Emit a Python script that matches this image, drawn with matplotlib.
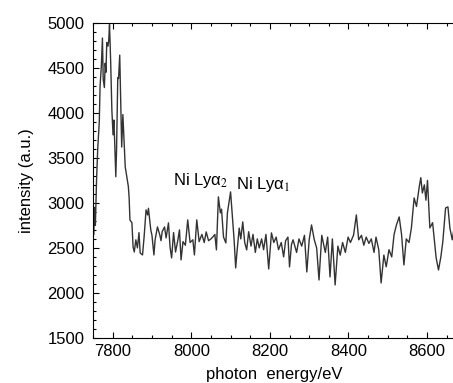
import matplotlib
matplotlib.use("Agg")
import matplotlib.pyplot as plt
from matplotlib.ticker import MultipleLocator

plt.rcParams['font.family'] = ['Liberation Sans', 'DejaVu Sans']
plt.rcParams['mathtext.fontset'] = 'stix'

# photon energy (eV) and intensity (a.u.)
energy = [7752, 7754, 7756, 7759, 7762, 7766, 7768, 7771, 7774, 7776,
          7779, 7781, 7783, 7785, 7788, 7790, 7792, 7795, 7798, 7801,
          7803, 7805, 7808, 7810, 7813, 7815, 7818, 7820, 7823, 7826,
          7828, 7832, 7836, 7840, 7842, 7844, 7849, 7852, 7855, 7859,
          7863, 7867, 7870, 7876, 7880, 7885, 7889, 7891, 7897, 7900,
          7905, 7908, 7914, 7920, 7923, 7926, 7932, 7936, 7942, 7946,
          7950, 7955, 7960, 7966, 7970, 7974, 7979, 7985, 7991, 7997,
          8004, 8008, 8014, 8020, 8027, 8033, 8038, 8044, 8050, 8055,
          8060, 8064, 8069, 8074, 8077, 8082, 8088, 8092, 8097, 8100,
          8104, 8109, 8113, 8116, 8122, 8126, 8131, 8136, 8141, 8146,
          8152, 8157, 8163, 8168, 8173, 8179, 8184, 8190, 8197, 8204,
          8210, 8216, 8222, 8229, 8235, 8240, 8246, 8250, 8255, 8259,
          8268, 8274, 8281, 8288, 8294, 8300, 8306, 8313, 8319, 8325,
          8332, 8341, 8347, 8353, 8359, 8366, 8373, 8379, 8385, 8392,
          8399, 8405, 8413, 8420, 8426, 8433, 8439, 8445, 8452, 8458,
          8465, 8470, 8477, 8483, 8490, 8496, 8503, 8510, 8516, 8522,
          8529, 8535, 8541, 8547, 8554, 8560, 8567, 8573, 8580, 8584,
          8588, 8593, 8597, 8601, 8607, 8614, 8623, 8629, 8635, 8640,
          8647, 8653, 8658, 8664, 8668, 8673]
intensity = [2650, 2950, 2750, 3250, 3600, 3900, 4300, 4500, 4830, 4370,
             4280, 4550, 4450, 4780, 4740, 4800, 4980, 4560, 4030, 3755,
             3920, 3700, 3290, 3600, 4390, 4380, 4640, 4220, 3620, 3980,
             3790, 3400, 3290, 3180, 3050, 2810, 2780, 2510, 2455, 2590,
             2500, 2670, 2444, 2422, 2622, 2922, 2866, 2940, 2700, 2640,
             2422, 2590, 2733, 2644, 2580, 2680, 2733, 2611, 2778, 2511,
             2389, 2670, 2455, 2590, 2700, 2367, 2570, 2530, 2811, 2560,
             2590, 2422, 2811, 2570, 2650, 2560, 2678, 2580, 2600, 2622,
             2650, 2478, 3067, 2889, 2930, 2622, 2555, 2889, 3033, 3122,
             2889, 2590, 2278, 2440, 2720, 2600, 2789, 2560, 2478, 2680,
             2520, 2650, 2450, 2600, 2500, 2600, 2480, 2650, 2267, 2667,
             2560, 2620, 2480, 2560, 2400, 2580, 2620, 2289, 2540, 2590,
             2450, 2600, 2520, 2640, 2233, 2590, 2755, 2590, 2500, 2144,
             2640, 2450, 2620, 2178, 2600, 2089, 2520, 2420, 2560, 2450,
             2620, 2560, 2644, 2866, 2590, 2640, 2530, 2620, 2550, 2600,
             2450, 2620, 2480, 2111, 2420, 2290, 2480, 2400, 2650, 2755,
             2844, 2650, 2311, 2600, 2560, 2720, 3055, 2960, 3178, 3280,
             3110, 3200, 3030, 3250, 2722, 2780, 2389, 2255, 2400, 2570,
             2944, 2955, 2720, 2590, 2700, 2622]

fig = plt.figure(figsize=(4.53, 3.83), dpi=100)
ax = fig.add_axes([0.2053, 0.1175, 0.80, 0.8232])

ax.plot(energy, intensity, color='#333333', linewidth=1.0)

ax.set_xlim(7750, 8672)
ax.set_ylim(1500, 5000)
ax.xaxis.set_major_locator(MultipleLocator(200))
ax.xaxis.set_minor_locator(MultipleLocator(50))
ax.yaxis.set_major_locator(MultipleLocator(500))
ax.yaxis.set_minor_locator(MultipleLocator(100))
ax.tick_params(which='both', direction='in', top=True, right=False,
               labelsize=12, width=0.8)
ax.tick_params(which='major', length=4.3)
ax.tick_params(which='minor', length=2.3)
ax.tick_params(axis='x', pad=4)
ax.tick_params(axis='y', pad=6)
ax.spines['right'].set_visible(False)

ax.set_xlabel("photon  energy/eV", fontsize=12, labelpad=6)
ax.set_ylabel("intensity (a.u.)", fontsize=12, labelpad=10)

ax.text(7953, 3200, "Ni Lyα$_{2}$", fontsize=12, va='baseline')
ax.text(8114, 3150, "Ni Lyα$_{1}$", fontsize=12, va='baseline')

fig.savefig("out.png", dpi=100)
